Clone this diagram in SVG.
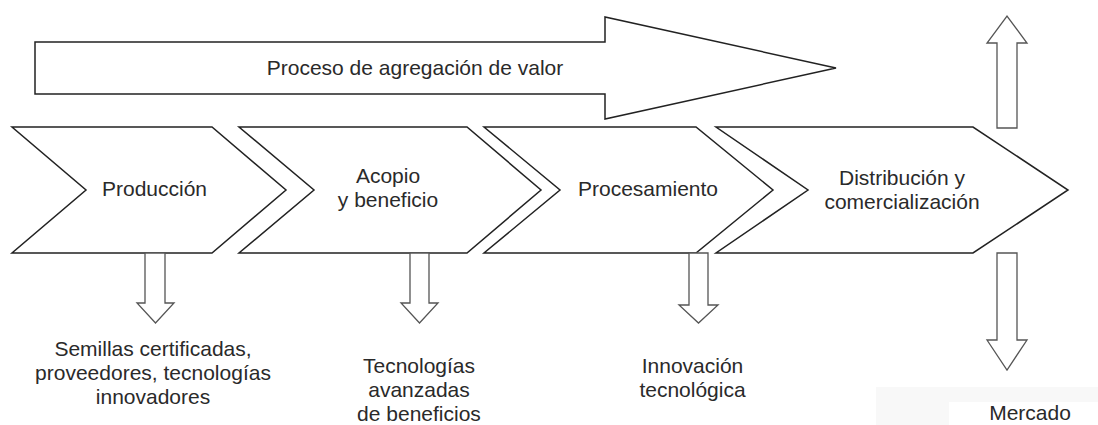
<svg xmlns="http://www.w3.org/2000/svg" width="1098" height="425" viewBox="0 0 1098 425">
<style>
.shape{fill:#fff;stroke:#222;stroke-width:1.5;stroke-linejoin:miter}
.arr{fill:#fff;stroke:#555;stroke-width:1.3;stroke-linejoin:miter}
text{font-family:"Liberation Sans",Arial,sans-serif;font-size:21px;fill:#2a2a2a;text-anchor:middle}
</style>
<rect width="1098" height="425" fill="#fff"/>
<rect x="876" y="387" width="222" height="38" fill="#f8f8f8"/>
<rect x="949" y="402" width="149" height="23" fill="#fff"/>
<g id="value-process">
<polygon class="shape" points="35,42 605,42 605,17 836,68 605,119 605,94 35,94"/>
<text x="415" y="75">Proceso de agregación de valor</text>
</g>
<g id="produccion">
<polygon class="shape" points="12,127 212,127 286,190 212,253 12,253 86,190"/>
<text x="154.5" y="196">Producción</text>
</g>
<g id="acopio">
<polygon class="shape" points="239,127 467,127 541,190 467,253 239,253 314,190"/>
<text x="388" y="183">Acopio</text>
<text x="388" y="207">y beneficio</text>
</g>
<g id="procesamiento">
<polygon class="shape" points="484,127 696,127 773,190 696,253 484,253 560,190"/>
<text x="648" y="196">Procesamiento</text>
</g>
<g id="distribucion">
<polygon class="shape" points="716,127 973,127 1068,190 973,253 716,253 808,190"/>
<text x="902" y="185">Distribución y</text>
<text x="902" y="209">comercialización</text>
</g>
<g id="connectors">
<polygon class="arr" points="145,253 165,253 165,303 174,303 155.5,323 137,303 145,303"/>
<polygon class="arr" points="410,253 429,253 429,303 438,303 419.5,323 401,303 410,303"/>
<polygon class="arr" points="689,253 708,253 708,305 718,305 698.5,323 679,305 689,305"/>
<polygon class="arr" points="997,253 1017,253 1017,340 1027,340 1007,370 987,340 997,340"/>
<polygon class="arr" points="997,128 1017,128 1017,43 1027,43 1007,16 987,43 997,43"/>
</g>
<g id="semillas">
<text x="153" y="356">Semillas certificadas,</text>
<text x="153" y="380">proveedores, tecnologías</text>
<text x="153" y="404">innovadores</text>
</g>
<g id="tecnologias">
<text x="419" y="373">Tecnologías</text>
<text x="419" y="397">avanzadas</text>
<text x="419" y="421">de beneficios</text>
</g>
<g id="innovacion">
<text x="692.5" y="373">Innovación</text>
<text x="692.5" y="397">tecnológica</text>
</g>
<g id="mercado">
<text x="1030" y="420">Mercado</text>
</g>
</svg>
